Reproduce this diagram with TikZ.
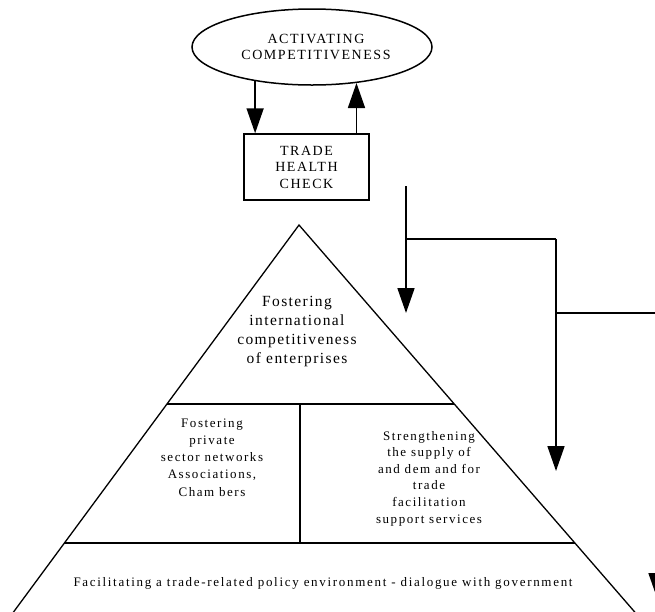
\documentclass[tikz,border=0pt]{standalone}
\usepackage{fontspec}
\setmainfont{Liberation Serif}
\newfontfamily\capsfont[LetterSpace=11]{Liberation Serif}
\newfontfamily\cellfont[LetterSpace=12]{Liberation Serif}
\newfontfamily\basefont[LetterSpace=13]{Liberation Serif}
\newfontfamily\topfont[LetterSpace=9]{Liberation Serif}
\usetikzlibrary{shapes.geometric,arrows.meta,calc}
\begin{document}
\begin{tikzpicture}[x=1pt,y=-1pt,line width=1.4pt,
  arr/.style={-{Triangle[width=17pt,length=25pt]},line width=1.7pt},
  flow/.style={line width=1.4pt},
  edge/.style={line width=1.3pt},
  capstext/.style={align=center,font=\capsfont\fontsize{14}{16.5}\selectfont},
  celltext/.style={align=center,font=\cellfont\fontsize{13}{17.2}\selectfont},
  toptext/.style={align=center,font=\topfont\fontsize{15.5}{19}\selectfont}]
\useasboundingbox (0,0) rectangle (655,611);

% top ellipse and box
\node[draw,ellipse,minimum width=240pt,minimum height=76pt,inner sep=0pt,line width=1.5pt,capstext] (act) at (312,47) {\hspace*{8pt}ACTIVATING\\[-0.5pt]\hspace*{8pt}COMPETITIVENESS};
\node[draw,rectangle,minimum width=125pt,minimum height=66pt,inner sep=0pt,line width=1.5pt,capstext] (thc) at (306.5,167) {TRADE\\HEALTH\\CHECK};

\draw[arr] (act.211) -- (act.211 |- thc.north);
\draw[arr] (act.321 |- thc.north) -- (act.321);

% flow lines on the right
\coordinate (s1) at (406,186);
\coordinate (t1) at (406,313);
\coordinate (j2) at (556,239);
\coordinate (t2) at (556,471);
\coordinate (e1) at (657,313);
\coordinate (t3) at (657,598);
\draw[arr] (s1) -- (t1);
\draw[flow] (s1 |- j2) -- (j2);
\draw[arr] (j2) -- (t2);
\draw[arr] (j2 |- e1) -- (e1) -- (t3);

% pyramid
\coordinate (apex) at (299,225);
\coordinate (bl) at (15,610);
\coordinate (br) at (633,610);
\coordinate (m1l) at ($(apex)!0.465!(bl)$);
\coordinate (m1r) at ($(apex)!0.465!(br)$);
\coordinate (m2l) at ($(apex)!0.826!(bl)$);
\coordinate (m2r) at ($(apex)!0.826!(br)$);
\coordinate (d1) at (300,404);
\coordinate (d2) at (300,543);
\draw[edge,line join=miter] ($(apex)!1.02!(bl)$) -- (apex) -- ($(apex)!1.02!(br)$);
\draw[flow] (m1l) -- (m1r);
\draw[flow] (m2l) -- (m2r);
\draw[flow] (d1) -- (d2);

\node[toptext] (top) at (297,332) {Fostering\\international\\competitiveness\\of enterprises};
\node[celltext] (left) at (212,457.5) {Fostering\\private\\sector networks\\Associations,\\Cham bers};
\node[celltext,font=\cellfont\fontsize{13}{16.6}\selectfont] (right) at (429,478.5) {Strengthening\\the supply of\\and dem and for\\trade\\facilitation\\support services};
\node[align=center,font=\basefont\fontsize{13}{16}\selectfont] (base) at (323,583) {Facilitating a trade-related policy environment - dialogue with government};
\end{tikzpicture}
\end{document}
